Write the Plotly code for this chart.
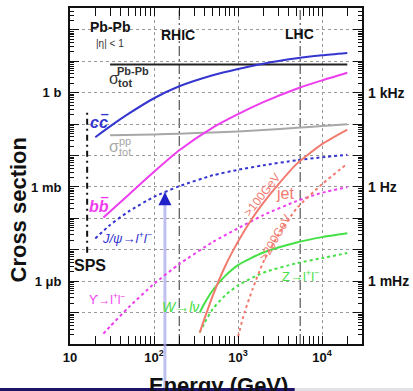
import numpy as np
import plotly.graph_objects as go

# ---- cross sections (barn) vs. collision energy per nucleon pair (GeV) ----
energy_cc = [20, 30, 50, 100, 200, 500, 1000, 2000, 5000, 10000, 20000]
sigma_cc = [0.0385, 0.0851, 0.216, 0.670, 1.61, 3.61, 5.73, 8.47, 12.5, 15.6, 18.5]

energy_bb = [25, 30, 50, 100, 200, 500, 1000, 2000, 5000, 10000, 20000]
sigma_bb = [1.07e-4, 1.67e-4, 5.70e-4, 3.05e-3, 0.0148, 0.0783, 0.210, 0.504, 1.35, 2.48, 4.34]

energy_tot_pbpb = [30, 20000]
sigma_tot_pbpb = [7.9, 7.9]

energy_tot_pp = [30, 100, 200, 500, 1000, 2000, 5000, 10000, 20000]
sigma_tot_pp = [0.0446, 0.0472, 0.0498, 0.0543, 0.0589, 0.0653, 0.0767, 0.0869, 0.100]

energy_jpsi = [20, 30, 50, 100, 200, 500, 1000, 2000, 5000, 10000, 20000]
sigma_jpsi = [2.30e-5, 6.19e-5, 1.67e-4, 4.85e-4, 1.06e-3, 2.35e-3, 3.52e-3,
              4.91e-3, 7.10e-3, 8.83e-3, 0.0106]

energy_ups = [25, 30, 50, 100, 200, 500, 1000, 2000, 5000, 10000, 20000]
sigma_ups = [2.13e-8, 3.62e-8, 1.48e-7, 8.22e-7, 3.50e-6, 1.76e-5, 4.82e-5,
             1.27e-4, 3.56e-4, 6.56e-4, 9.89e-4]

energy_wz = [350, 400, 500, 700, 1000, 2000, 5000, 10000, 20000]
sigma_w = [1.0e-7, 1.98e-7, 5.14e-7, 1.45e-6, 3.25e-6, 8.20e-6, 1.71e-5, 2.53e-5, 3.34e-5]
sigma_z = [2.30e-8, 4.71e-8, 1.30e-7, 3.51e-7, 7.36e-7, 1.87e-6, 3.74e-6, 5.43e-6, 7.91e-6]

energy_jet100 = [350, 400, 500, 700, 1000, 1500, 2000, 3000, 5000, 10000, 20000]
sigma_jet100 = [2.30e-8, 6.52e-8, 3.40e-7, 2.93e-6, 1.82e-5, 1.07e-4, 3.14e-4,
                1.19e-3, 5.44e-3, 0.0232, 0.0672]

energy_jet200 = [1000, 1200, 1500, 2000, 3000, 5000, 10000, 20000]
sigma_jet200 = [1.71e-8, 1.04e-7, 5.82e-7, 4.08e-6, 2.88e-5, 2.08e-4, 1.22e-3, 5.52e-3]

# accelerators
rhic_energy = 200
lhc_energy = 5500
sps_energy = 16
sps_sigma_span = [8e-6, 0.28]

# marked energy on the J/psi curve
arrow_energy = 135

# axis ticks
y_decades = list(range(-8, 3))
y_labels_left = {-6: "1 \u03bcb", -3: "1 mb", 0: "1 b"}
y_labels_right = {-6: "1 mHz", -3: "1 Hz", 0: "1 kHz"}
x_tick_vals = [10, 100, 1000, 10000]
x_tick_text = ["10", "10<sup>2</sup>", "10<sup>3</sup>", "10<sup>4</sup>"]

BLUE = "#3535d0"
MAGENTA = "#ee3dee"
GRAY = "#a8a8a8"
SALMON = "#f27a6e"
GREEN = "#44e044"
FONT = "Liberation Sans, Arial, sans-serif"

fig = go.Figure()


def curve(x, y, color, dash="solid", width=2):
    fig.add_trace(go.Scatter(
        x=x, y=y, mode="lines",
        line=dict(color=color, width=width, dash=dash, shape="spline", smoothing=0.6),
        showlegend=False, hoverinfo="skip"))


curve(energy_tot_pbpb, sigma_tot_pbpb, "#222222", width=2)
curve(energy_tot_pp, sigma_tot_pp, GRAY, width=2)
curve(energy_cc, sigma_cc, BLUE)
curve(energy_bb, sigma_bb, MAGENTA)
curve(energy_jpsi, sigma_jpsi, BLUE, dash="dot")
curve(energy_ups, sigma_ups, MAGENTA, dash="dot")
curve(energy_wz, sigma_w, GREEN)
curve(energy_wz, sigma_z, GREEN, dash="dot")
curve(energy_jet100, sigma_jet100, SALMON)
curve(energy_jet200, sigma_jet200, SALMON, dash="dot")

# arrow head sitting on the J/psi curve
arrow_sigma = 10 ** np.interp(np.log10(arrow_energy), np.log10(energy_jpsi), np.log10(sigma_jpsi))
fig.add_trace(go.Scatter(
    x=[arrow_energy], y=[arrow_sigma], mode="markers",
    marker=dict(symbol="arrow-up", size=13, color="#2020c8", line=dict(width=0)),
    showlegend=False, hoverinfo="skip", cliponaxis=False))

# dummy trace so the right-hand rate axis is drawn
fig.add_trace(go.Scatter(x=[None], y=[None], yaxis="y2", showlegend=False))

shapes = []
for e in (rhic_energy, lhc_energy):
    shapes.append(dict(type="line", xref="x", yref="paper", x0=e, x1=e, y0=0, y1=1,
                       line=dict(color="#555555", width=1.2, dash="10px,3px,2px,3px"),
                       layer="below"))
shapes.append(dict(type="line", xref="x", yref="y", x0=sps_energy, x1=sps_energy,
                   y0=sps_sigma_span[0], y1=sps_sigma_span[1],
                   line=dict(color="#111111", width=2, dash="6px,4px,2px,4px")))
lightblue = "rgba(170,170,235,0.75)"
shapes.append(dict(type="line", xref="x", yref="y", x0=arrow_energy, x1=arrow_energy,
                   y0=1e-9, y1=arrow_sigma, line=dict(color=lightblue, width=3), layer="below"))
shapes.append(dict(type="line", xref="x", yref="paper", x0=arrow_energy, x1=arrow_energy,
                   y0=-0.2, y1=0, line=dict(color=lightblue, width=3)))
# strip along the bottom edge
shapes.append(dict(type="rect", xref="paper", yref="paper", x0=-0.3, x1=0.77, y0=-0.2, y1=-0.131,
                   fillcolor="#1c1466", line=dict(width=0)))
shapes.append(dict(type="rect", xref="paper", yref="paper", x0=0.77, x1=1.3, y0=-0.2, y1=-0.131,
                   fillcolor="#e2e2e6", line=dict(width=0)))


def label(text, lx, ly, color="#111111", size=12, angle=0, bold=False, italic=False):
    if italic:
        text = "<i>" + text + "</i>"
    if bold:
        text = "<b>" + text + "</b>"
    return dict(text=text, x=lx, y=ly, xref="x", yref="y", showarrow=False,
                xanchor="center", yanchor="middle", textangle=angle,
                font=dict(family=FONT, size=size, color=color))


annotations = [
    label("Pb-Pb", 1.476, 2.09, size=14, bold=True),
    label("|\u03b7| < 1", 1.476, 1.585, size=10, color="#333"),
    label("RHIC", 2.286, 1.84, size=14, bold=True),
    label("LHC", 3.726, 1.87, size=14, bold=True),
    label("\u03c3", 1.524, 0.45, size=16, color="#333"),
    label("Pb-Pb", 1.75, 0.69, size=11, bold=True, color="#333"),
    label("tot", 1.655, 0.31, size=11, bold=True, color="#333"),
    label("\u03c3", 1.524, -1.70, size=16, color=GRAY),
    label("pp", 1.655, -1.527, size=11, color=GRAY),
    label("tot", 1.655, -1.878, size=11, color=GRAY),
    # quark-antiquark labels, the bar drawn over the antiquark
    label("cc", 1.351, -0.936, size=16, color=BLUE, bold=True, italic=True),
    label("\u203e", 1.412, -0.90, size=16, color=BLUE, bold=True),
    label("bb", 1.351, -3.62, size=16, color=MAGENTA, bold=True, italic=True),
    label("\u203e", 1.412, -3.55, size=16, color=MAGENTA, bold=True),
    label("J/\u03c8\u2192l<sup>+</sup>l<sup>\u2212</sup>", 1.679, -4.639, size=13,
          color=BLUE, italic=True),
    label("\u03d2\u2192l<sup>+</sup>l<sup>\u2212</sup>", 1.452, -6.554, size=12, color=MAGENTA),
    label("W\u2192l\u03bd", 2.31, -6.81, size=14, color=GREEN, italic=True),
    label("Z\u2192l<sup>+</sup>l<sup>\u2212</sup>", 3.738, -5.82, size=13, color=GREEN),
    label("jet", 3.56, -3.203, size=16, color=SALMON),
    label(">100GeV", 3.286, -3.266, size=12, color=SALMON, angle=-52),
    label(">200GeV", 3.452, -4.607, size=12, color=SALMON, angle=-60),
    label("SPS", 1.238, -5.50, size=16, bold=True),
    dict(text="<b>Cross section</b>", xref="paper", yref="paper", x=-0.175, y=0.40,
         textangle=-90, showarrow=False, xanchor="center", yanchor="middle",
         font=dict(family=FONT, size=22, color="#111")),
    dict(text="<b>Energy (GeV)</b>", xref="paper", yref="paper", x=0.507, y=-0.080,
         showarrow=False, xanchor="center", yanchor="top",
         font=dict(family=FONT, size=22, color="#111")),
]

minor_y = [m * 10.0 ** k for k in range(-8, 3) for m in range(2, 10)]
minor_x = [m * 10.0 ** k for k in range(1, 5) for m in range(2, 10)]

fig.update_layout(
    width=413, height=391, autosize=False,
    margin=dict(l=70, r=51, t=8, b=47),
    paper_bgcolor="white", plot_bgcolor="white",
    font=dict(family=FONT, size=13, color="#111"),
    shapes=shapes, annotations=annotations,
    xaxis=dict(
        type="log", range=[1, 4.476], automargin=False,
        tickmode="array", tickvals=x_tick_vals, ticktext=["<b>%s</b>" % t for t in x_tick_text],
        ticks="inside", ticklen=8, tickwidth=1.3, tickcolor="#111",
        showline=True, linewidth=2, linecolor="#111", mirror="allticks",
        showgrid=True, gridcolor="#9a9a9a", griddash="dot", gridwidth=1,
        tickfont=dict(size=13, family=FONT, color="#111"),
        minor=dict(tickmode="array", tickvals=minor_x, ticks="inside", ticklen=4,
                   tickwidth=1, tickcolor="#111", showgrid=False),
        zeroline=False,
    ),
    yaxis=dict(
        type="log", range=[-8, 2.70], automargin=False,
        tickmode="array", tickvals=[10.0 ** k for k in y_decades],
        ticktext=["<b>%s</b>" % y_labels_left.get(k, "") for k in y_decades],
        ticks="inside", ticklen=9, tickwidth=1.3, tickcolor="#111",
        showline=True, linewidth=2, linecolor="#111", mirror="allticks",
        showgrid=True, gridcolor="#9a9a9a", griddash="dot", gridwidth=1,
        tickfont=dict(size=13, family=FONT, color="#111"), ticklabelstandoff=4,
        minor=dict(tickmode="array", tickvals=minor_y, ticks="inside", ticklen=4,
                   tickwidth=1, tickcolor="#111", showgrid=False),
        zeroline=False,
    ),
    yaxis2=dict(
        type="log", range=[-8, 2.70], overlaying="y", side="right", automargin=False,
        tickmode="array", tickvals=[10.0 ** k for k in y_labels_right],
        ticktext=["<b>%s</b>" % v for v in y_labels_right.values()],
        ticks="", showgrid=False, showline=False, zeroline=False,
        tickfont=dict(size=14, family=FONT, color="#111"), ticklabelstandoff=5,
    ),
)

fig.write_html("out.html")
